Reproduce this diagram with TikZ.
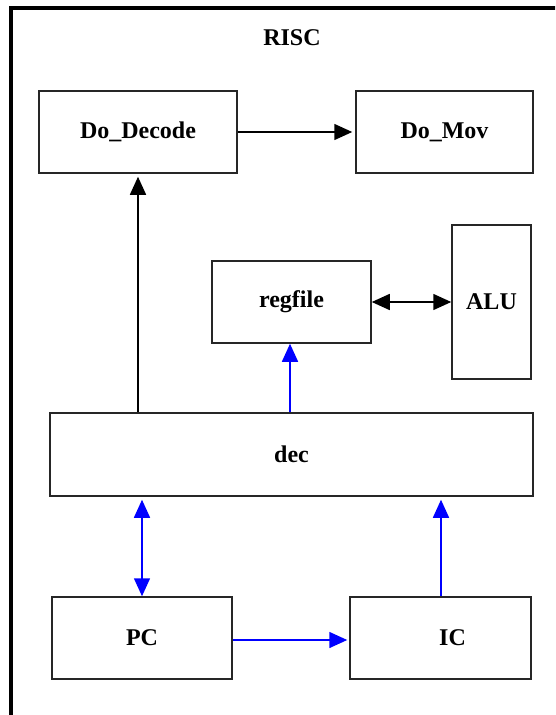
\documentclass[tikz,border=0pt]{standalone}
\usepackage{fontspec}
\setmainfont{Liberation Serif}
\usetikzlibrary{arrows.meta}
\begin{document}
\begin{tikzpicture}[x=1pt,y=-1pt,
  blk/.style={draw=black!85, line width=1.5pt, fill=white, inner sep=0pt,
    font=\fontsize{24}{28}\selectfont\bfseries},
  conn/.style={line width=1.5pt, -{Triangle[length=18pt,width=16pt]}},
  dconn/.style={line width=1.5pt, {Triangle[length=18pt,width=16pt]}-{Triangle[length=18pt,width=16pt]}},
  blueline/.style={draw=blue, color=blue}]
\useasboundingbox (0,0) rectangle (555,715);
\clip (0,0) rectangle (555,715);
\fill[white] (0,0) rectangle (555,715);
% outer frame
\draw[line width=3.5pt] (11,8) rectangle (620,780);
\node[font=\fontsize{24}{28}\selectfont\bfseries] (risc) at (292,38) {RISC};
% blocks
\node[blk, minimum width=198pt, minimum height=82pt] (dodecode) at (138,132) {Do\_Decode};
\node[blk, minimum width=177pt, minimum height=82pt] (domov) at (444.5,132) {Do\_Mov};
\node[blk, minimum width=159pt, minimum height=82pt] (regfile) at (291.5,302) {regfile};
\node[blk, minimum width=79pt, minimum height=154pt] (alu) at (491.5,302) {ALU};
\node[blk, minimum width=483pt, minimum height=83pt] (dec) at (291.5,454.5) {dec};
\node[blk, minimum width=180pt, minimum height=82pt] (pc) at (142,638) {\raisebox{-5pt}{PC}};
\node[blk, minimum width=181pt, minimum height=82pt] (ic) at (440.5,638) {\hspace*{24pt}IC};
% anchor coordinates for the vertical connectors
\coordinate (dd) at (dodecode.south -| 138,0);
\coordinate (rf) at (regfile.south -| 290,0);
\coordinate (pctop) at (pc.north);
\coordinate (ictop) at (ic.north -| 441,0);
\coordinate (pcr) at (pc.east |- 0,640);
\coordinate (icl) at (ic.west |- 0,640);
% connectors
\draw[conn, shorten >=3pt] (dodecode.east) -- (domov.west);
\draw[conn, shorten >=3pt] (dec.north -| dd) -- (dd);
\draw[conn, blueline] (dec.north -| rf) -- (rf);
\draw[dconn] (regfile.east) -- (alu.west);
\draw[dconn, blueline, shorten <=3pt] (dec.south -| pctop) -- (pctop);
\draw[conn, blueline, shorten >=3pt] (ictop) -- (dec.south -| ictop);
\draw[conn, blueline, shorten >=2pt] (pcr) -- (icl);
\end{tikzpicture}
\end{document}
